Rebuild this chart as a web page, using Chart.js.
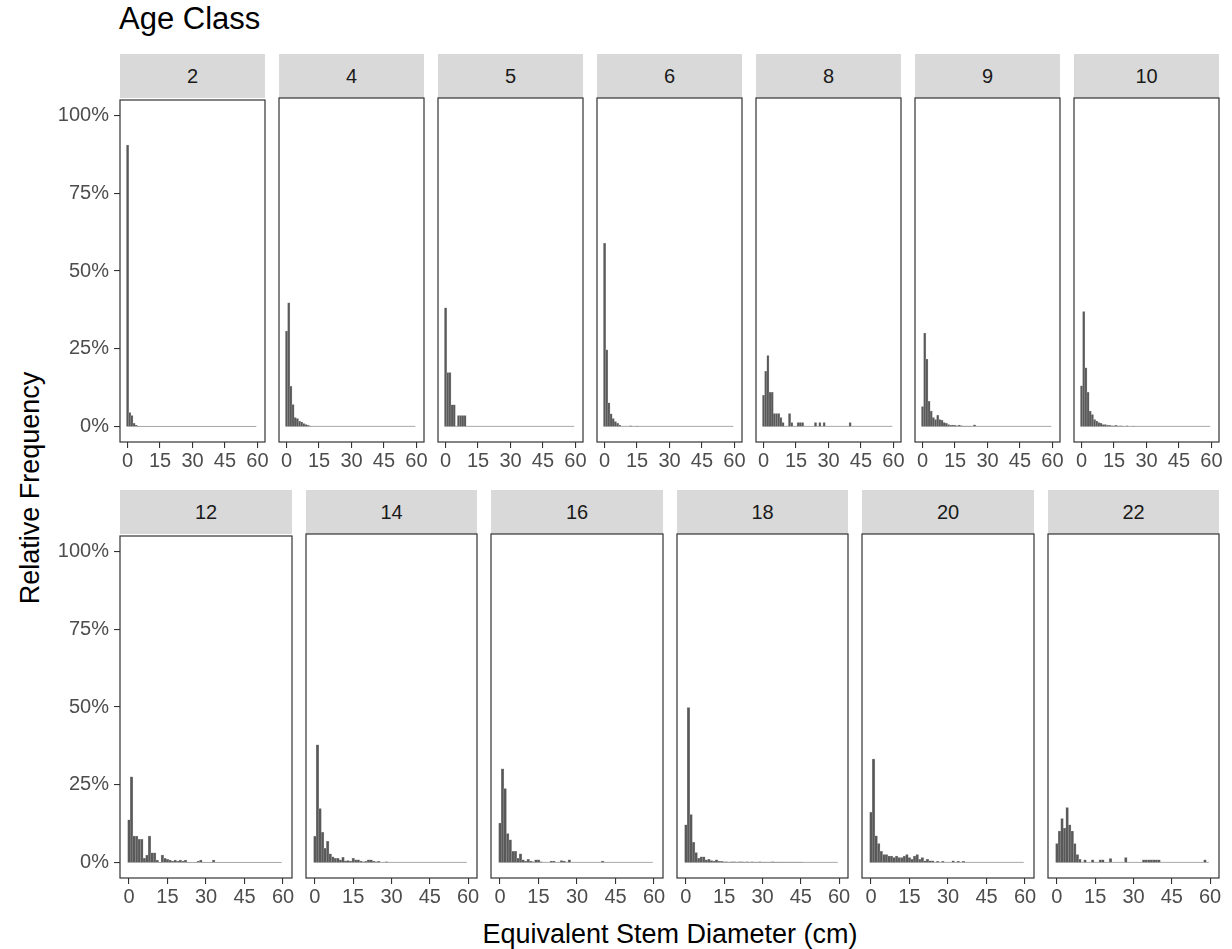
<!DOCTYPE html>
<html>
<head>
<meta charset="utf-8">
<script src="https://cdn.jsdelivr.net/npm/chart.js@4.4.0/dist/chart.umd.min.js"></script>
<style>
  body { margin: 0; background: #fff; }
  #fig { position: relative; width: 1232px; height: 949px; font-family: "Liberation Sans", Arial, sans-serif; }
  #fig canvas { position: absolute; }
  .title { position: absolute; left: 119px; top: 3px; font-size: 31px; line-height: 31px; color: #000; white-space: nowrap; }
  .ytitle { position: absolute; left: 30px; top: 488px; font-size: 27px; color: #000; white-space: nowrap;
            transform: translate(-50%, -50%) rotate(-90deg); }
  .xtitle { position: absolute; left: 670px; top: 934px; font-size: 27px; color: #000; white-space: nowrap;
            transform: translate(-50%, -50%); }
  .strip { position: absolute; background: #d9d9d9; color: #1a1a1a; font-size: 20px; text-align: center; }
</style>
</head>
<body>
<div id="fig">
  <div class="title">Age Class</div>
  <div class="ytitle">Relative Frequency</div>
  <div class="xtitle">Equivalent Stem Diameter (cm)</div>
</div>
<script>
// 年龄组（分面）
const ageClasses = [2, 4, 5, 6, 8, 9, 10, 12, 14, 16, 18, 20, 22];
const panelsPerRow = [7, 6];

// 每个年龄组的相对频率（%），按 1 cm 直径分箱，从 0 cm 开始；之后的箱为 0
const freqAge2 = [90.5, 4.5, 3.5, 1.0, 0.4, 0.1];
const freqAge4 = [30.5, 39.5, 12.8, 7.0, 2.8, 2.5, 1.6, 1.4, 0.9, 0.6, 0.3, 0.1];
const freqAge5 = [37.9, 17.2, 17.2, 6.9, 6.9, 0, 3.45, 3.45, 3.45, 3.45];
const freqAge6 = [58.5, 24.5, 7.5, 4.0, 2.5, 1.5, 1.0, 0.4, 0, 0, 0, 0, 0.2, 0, 0, 0.1];
const freqAge8 = [9.9, 17.6, 22.6, 10.9, 10.9, 4.1, 4.1, 4.1, 2.8, 1.2, 0, 0, 4.1, 1.2, 0, 0,
                  1.2, 1.2, 1.2, 0, 0, 0, 0, 0, 1.2, 0, 1.2, 0, 1.2, 0, 0, 0, 0, 0, 0, 0, 0, 0, 0, 0, 1.2];
const freqAge9 = [6.3, 29.8, 21.5, 8.0, 4.9, 2.8, 2.2, 3.5, 2.2, 1.9, 1.2, 1.0, 0.6, 0.4, 0.4, 0.3,
                  0.2, 0.4, 0.2, 0.1, 0.1, 0.1, 0.1, 0, 0.5];
const freqAge10 = [13.0, 36.7, 18.7, 10.9, 4.9, 3.8, 2.2, 1.7, 1.2, 1.0, 0.6, 0.6, 0.3, 0.3, 0.2, 0.2,
                   0.3, 0.1, 0.2, 0.1, 0, 0.2, 0, 0, 0.1];
const freqAge12 = [13.7, 27.5, 8.5, 8.5, 7.4, 7.4, 1.3, 2.4, 8.5, 3.1, 3.1, 0.8, 0, 2.4, 1.3, 1.0,
                   0.8, 0.4, 0.8, 0.4, 0.8, 0.4, 0.8, 0, 0, 0, 0, 0.4, 0.8, 0, 0, 0, 0, 0.8];
const freqAge14 = [8.3, 37.6, 17.2, 9.6, 4.5, 6.7, 2.7, 1.8, 1.3, 1.3, 0.8, 1.6, 0.5, 0.6, 0.4, 1.3,
                   0.8, 0.8, 0.4, 0.2, 0.3, 0.8, 0.8, 0.4, 0.2, 0.3, 0, 0, 0.2];
const freqAge16 = [12.6, 29.9, 23.6, 9.2, 7.2, 3.5, 3.5, 1.3, 2.7, 0.8, 0.4, 1.0, 0.4, 0.2, 0.8, 0.8,
                   0.2, 0, 0, 0, 0.4, 0.4, 0, 0, 0.6, 0.4, 0, 0.8, 0, 0, 0, 0, 0, 0, 0, 0, 0, 0, 0, 0, 0.4];
const freqAge18 = [12.0, 49.5, 15.3, 6.4, 3.1, 1.3, 1.8, 1.8, 0.8, 1.0, 0.6, 0.4, 0.8, 0.3, 0.3, 0.2,
                   0.2, 0.1, 0.2, 0.2, 0.1, 0.2, 0.2, 0.1, 0.2, 0.1, 0.2, 0.1, 0.1, 0.2, 0.1, 0.1,
                   0.1, 0.1, 0.2, 0.1, 0.1, 0.1, 0.1, 0.1, 0.1, 0.1, 0.1, 0.1, 0.1, 0.1];
const freqAge20 = [16.0, 33.0, 8.5, 6.0, 3.5, 2.5, 2.5, 2.0, 2.0, 1.5, 2.0, 1.5, 1.5, 2.0, 2.5, 1.5,
                   1.0, 2.0, 2.5, 1.0, 1.5, 0.5, 1.0, 0.5, 0.5, 0, 0.3, 0, 0.3, 0, 0, 0, 0.5, 0, 0.3, 0, 0.3];
const freqAge22 = [6.0, 10.0, 14.0, 11.0, 17.5, 12.0, 10.0, 6.0, 2.5, 1.0, 0, 0.8, 0, 0, 0.8, 0,
                   0, 0.8, 0.8, 0, 0, 1.2, 0, 0, 0, 0, 0, 1.5, 0, 0, 0, 0, 0, 0, 0.8, 0.8,
                   0.8, 0.8, 0.8, 0.8, 0.8, 0, 0, 0, 0, 0, 0, 0, 0, 0, 0, 0, 0, 0, 0, 0, 0, 0, 0.8];

const freqByAge = {
  2: freqAge2, 4: freqAge4, 5: freqAge5, 6: freqAge6, 8: freqAge8, 9: freqAge9, 10: freqAge10,
  12: freqAge12, 14: freqAge14, 16: freqAge16, 18: freqAge18, 20: freqAge20, 22: freqAge22
};

// 坐标轴
const nBins = 60;
const binWidth = 1;
const xTicks = [0, 15, 30, 45, 60];
const yTicks = [0, 25, 50, 75, 100];

// 版面
const plotLeft = 120, plotRight = 1219, panelGap = 14;
const stripH = 44, boxH = 344;
const rowTops = [54, 490];
const axisH = 40, sidePad = 25, topPad = 15;

Chart.defaults.font.family = '"Liberation Sans", Arial, sans-serif';

// 画面板边框
const panelBorder = {
  id: 'panelBorder',
  afterDatasetsDraw(chart) {
    const { ctx, chartArea: a } = chart;
    ctx.save();
    ctx.strokeStyle = '#333333';
    ctx.lineWidth = 1.2;
    ctx.strokeRect(a.left, a.top, a.right - a.left, a.bottom - a.top);
    ctx.restore();
  }
};

const fig = document.getElementById('fig');
let idx = 0;

panelsPerRow.forEach((count, row) => {
  const boxW = (plotRight - plotLeft - panelGap * (count - 1)) / count;
  const stripTop = rowTops[row];
  const boxTop = stripTop + stripH;

  for (let c = 0; c < count; c++) {
    const age = ageClasses[idx++];
    const boxLeft = Math.round(plotLeft + c * (boxW + panelGap));
    const boxRight = Math.round(plotLeft + c * (boxW + panelGap) + boxW);
    const isLeft = c === 0;

    // 分面标签
    const strip = document.createElement('div');
    strip.className = 'strip';
    strip.style.left = boxLeft + 'px';
    strip.style.top = stripTop + 'px';
    strip.style.width = (boxRight - boxLeft) + 'px';
    strip.style.height = stripH + 'px';
    strip.style.lineHeight = stripH + 'px';
    strip.textContent = age;
    fig.appendChild(strip);

    // 画布
    const cLeft = isLeft ? 0 : boxLeft - sidePad;
    const cW = boxRight + sidePad - cLeft;
    const cH = topPad + boxH + axisH;
    const canvas = document.createElement('canvas');
    canvas.width = cW;
    canvas.height = cH;
    canvas.style.left = cLeft + 'px';
    canvas.style.top = (boxTop - topPad) + 'px';
    canvas.style.width = cW + 'px';
    canvas.style.height = cH + 'px';
    fig.appendChild(canvas);

    const src = freqByAge[age];
    const values = Array.from({ length: nBins }, (_, i) => src[i] || 0);

    const yScale = {
      display: isLeft,
      min: -5,
      max: 105,
      afterBuildTicks: s => { s.ticks = yTicks.map(v => ({ value: v })); },
      grid: { drawOnChartArea: false, drawTicks: true, tickLength: 6, color: '#333333', lineWidth: 1.1 },
      border: { display: false },
      ticks: { padding: 5, color: '#4d4d4d', font: { size: 20 }, callback: v => v + '%' }
    };
    if (isLeft) yScale.afterFit = s => { s.width = boxLeft; };

    new Chart(canvas, {
      type: 'bar',
      data: {
        datasets: [
          {
            type: 'line',
            data: [{ x: -binWidth / 2, y: 0 }, { x: (nBins - 0.5) * binWidth, y: 0 }],
            borderColor: '#a8a8a8',
            borderWidth: 1,
            pointRadius: 0,
            order: 2
          },
          {
            data: values.map((v, i) => ({ x: i * binWidth, y: v })),
            backgroundColor: '#595959',
            borderColor: '#9a9a9a',
            borderWidth: 0.5,
            barPercentage: 1,
            categoryPercentage: 1,
            order: 1
          }
        ]
      },
      options: {
        responsive: false,
        animation: false,
        events: [],
        layout: {
          padding: { left: isLeft ? 0 : sidePad, right: sidePad, top: topPad, bottom: 0 }
        },
        plugins: { legend: { display: false }, tooltip: { enabled: false } },
        scales: {
          x: {
            type: 'linear',
            offset: false,
            min: -3.5,
            max: 63.5,
            afterBuildTicks: s => { s.ticks = xTicks.map(v => ({ value: v })); },
            afterFit: s => { s.height = axisH; },
            grid: { offset: false, drawOnChartArea: false, drawTicks: true, tickLength: 6, color: '#333333', lineWidth: 1.1 },
            border: { display: false },
            ticks: { autoSkip: false, maxRotation: 0, padding: 1, color: '#4d4d4d', font: { size: 20 } }
          },
          y: yScale
        }
      },
      plugins: [panelBorder]
    });
  }
});
</script>
</body>
</html>
